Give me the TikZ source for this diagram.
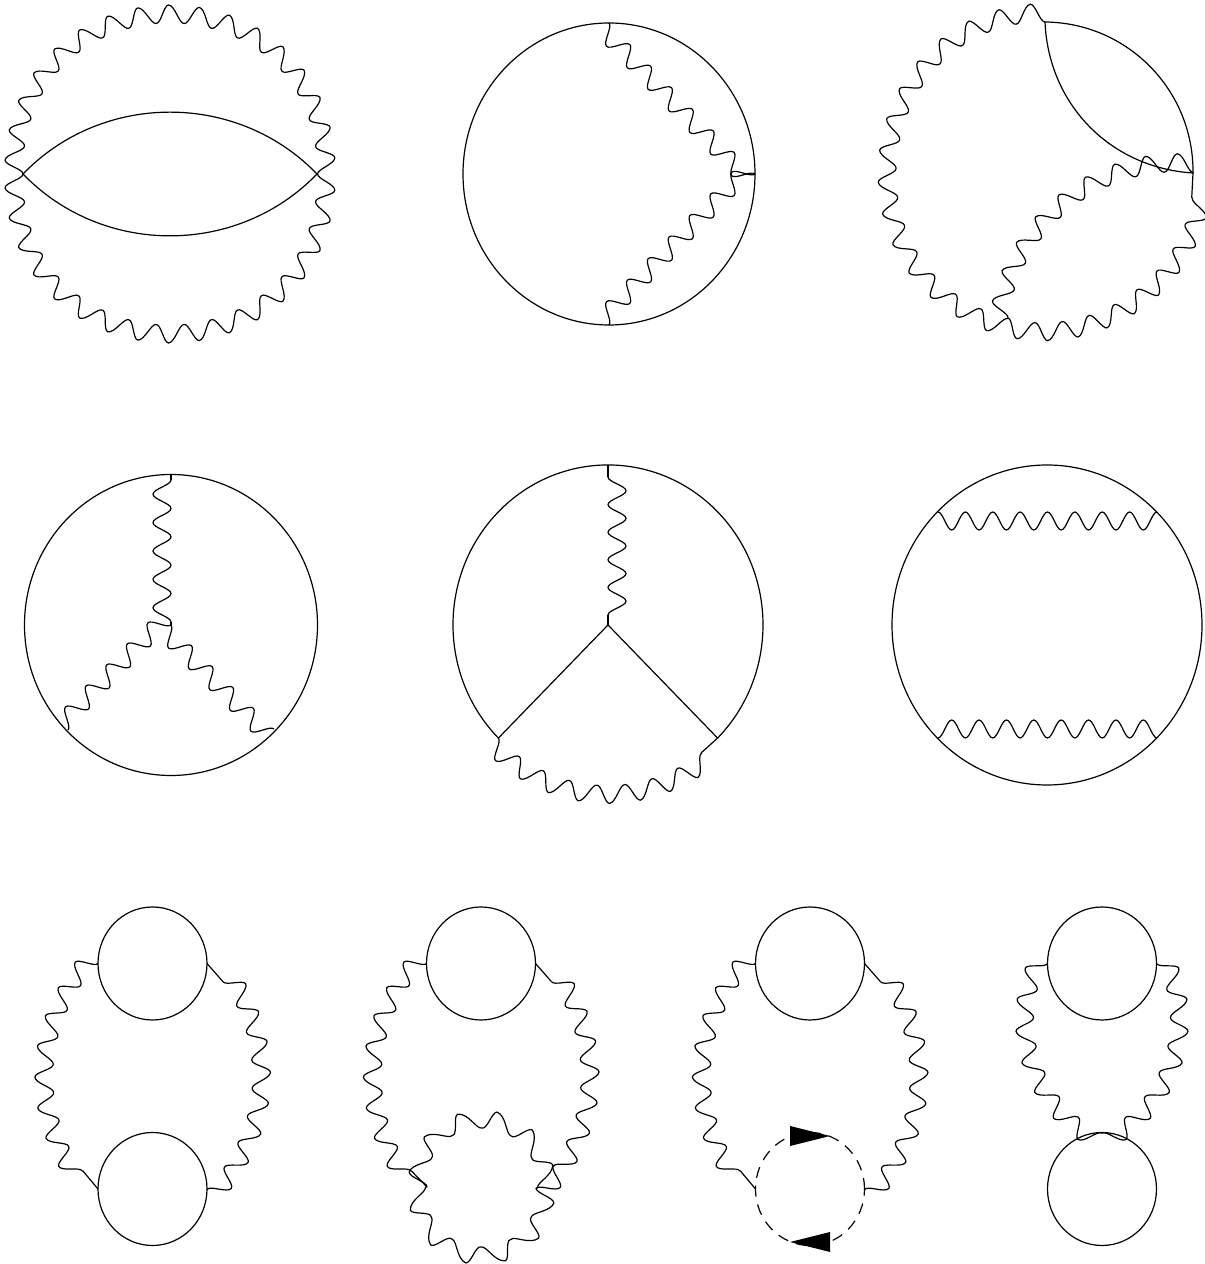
\documentclass[tikz,border=0pt]{standalone}
\usetikzlibrary{decorations, shapes.geometric}

\pgfdeclaredecoration{photon}{up}{
	\state{up}[switch if less than=0.25*\pgfdecoratedpathlength/\wavecount to final, width=0.5*\pgfdecoratedpathlength/\wavecount, next state=down]{
		\pgfmathsetlengthmacro\wavestep{\pgfdecoratedpathlength/\wavecount}
		\pgfpathcurveto{\pgfpoint{0.18*\wavestep}{0pt}}{\pgfpoint{0.32*\wavestep}{\pgfdecorationsegmentamplitude}}{\pgfpoint{0.5*\wavestep}{\pgfdecorationsegmentamplitude}}
	}
	\state{down}[switch if less than=0.25*\pgfdecoratedpathlength/\wavecount to final, width=0.5*\pgfdecoratedpathlength/\wavecount, next state=up]{
		\pgfmathsetlengthmacro\wavestep{\pgfdecoratedpathlength/\wavecount}
		\pgfpathcurveto{\pgfpoint{0.18*\wavestep}{\pgfdecorationsegmentamplitude}}{\pgfpoint{0.32*\wavestep}{0pt}}{\pgfpoint{0.5*\wavestep}{0pt}}
	}
	\state{final}{\pgfpathlineto{\pgfpointdecoratedpathlast}}
}

\tikzset{
	gluon/.style={decorate, decoration={photon, amplitude=18pt}, /utils/exec={\def\wavecount{#1}}},
	flipgluon/.style={gluon=#1, decoration={mirror}}
}

\begin{document}
\begin{tikzpicture}[x=1pt, y=1pt, line width=1.2pt, line join=round, every node/.style={ellipse, draw, inner sep=0pt, outer sep=0pt}]
	\useasboundingbox (0, 0) rectangle (1205, 1264);

	\coordinate (v1l) at (23, 1090);
	\coordinate (v1r) at (317, 1090);
	\draw (v1l) to[bend left=46] (v1r);
	\draw (v1l) to[bend right=46] (v1r);
	\draw[gluon=17] (v1l) to[bend left=90, looseness=1.75] (v1r);
	\draw[flipgluon=17] (v1l) to[bend right=90, looseness=1.75] (v1r);

	\node[minimum width=292pt, minimum height=302pt] (d2) at (609, 1090) {};
	\draw[flipgluon=7] (d2.north) -- (d2.east);
	\draw[gluon=7] (d2.south) -- (d2.east);

	\coordinate (d3t) at (1045, 1242);
	\coordinate (d3r) at (1193, 1091);
	\coordinate (d3j) at (1008, 946);
	\coordinate (d3e) at (1191.7, 1066);
	\draw (d3t) to[bend left=45] (d3r);
	\draw (d3t) to[bend right=42] (d3r);
	\draw[flipgluon=15] (d3t) to[bend right=82, looseness=1.5] (d3j);
	\draw[flipgluon=9] (d3j) to[bend right=47] (d3e);
	\draw (d3e) -- (d3r);
	\draw[gluon=9] (d3j) to[bend left=43] (d3r);

	\node[minimum width=293pt, minimum height=301pt] (d4) at (171, 639) {};
	\coordinate (v4c) at (171, 639);
	\coordinate (v4t) at (171, 784);
	\coordinate (v4b) at (171, 642);
	\coordinate (v4l) at (68, 534);
	\coordinate (v4r) at (274, 535);
	\draw (d4.north) -- (v4t);
	\draw (v4b) -- (v4c);
	\draw[gluon=5] (v4b) -- (v4t);
	\draw[gluon=5] (v4l) -- (v4c);
	\draw[flipgluon=5] (v4c) -- (v4r);

	\coordinate (v5c) at (608, 639);
	\coordinate (v5t) at (608, 799);
	\coordinate (v5u) at (608, 787);
	\coordinate (v5d) at (608, 649);
	\coordinate (v5a) at (717.6, 525.9);
	\coordinate (v5b) at (498.4, 525.9);
	\coordinate (v5e) at (701, 511);
	\draw (v5a) arc[start angle=-45, delta angle=270, x radius=155, y radius=160];
	\draw (v5c) -- (v5a);
	\draw (v5c) -- (v5b);
	\draw (v5t) -- (v5u);
	\draw (v5d) -- (v5c);
	\draw (v5e) -- (v5a);
	\draw[gluon=5] (v5u) -- (v5d);
	\draw[flipgluon=8] (v5b) to[bend right=41] (v5e);

	\node[minimum width=310pt, minimum height=320pt] (d6) at (1047, 639) {};
	\coordinate (v6a) at (938, 752);
	\coordinate (v6b) at (1157, 752);
	\coordinate (v6c) at (938, 526);
	\coordinate (v6d) at (1157, 526);
	\draw[flipgluon=8] (v6a) -- (v6b);
	\draw[gluon=8] (v6c) -- (v6d);

	\node[minimum width=109pt, minimum height=113pt] (d7a) at (152.5, 300.5) {};
	\node[minimum width=109pt, minimum height=113pt] (d7b) at (152.5, 75) {};
	\coordinate (v7a) at (82.7, 93.3);
	\coordinate (v7b) at (223, 282.3);
	\draw (v7a) -- (d7b.west);
	\draw (d7a.east) -- (v7b);
	\draw[flipgluon=8] (d7a.west) to[bend right=37] (v7a);
	\draw[gluon=8] (v7b) to[bend left=37] (d7b.east);

	\node[minimum width=109pt, minimum height=113pt] (d8) at (481, 300.5) {};
	\coordinate (v8a) at (427, 77);
	\coordinate (v8b) at (536, 76);
	\coordinate (v8c) at (411.2, 93.3);
	\coordinate (v8d) at (551.5, 282.3);
	\draw (v8c) -- (v8a);
	\draw (d8.east) -- (v8d);
	\draw[flipgluon=8] (d8.west) to[bend right=37] (v8c);
	\draw[gluon=8] (v8d) to[bend left=37] (v8b);
	\draw[gluon=6] (v8a) to[bend left=90, looseness=1.8] (v8b);
	\draw[gluon=6] (v8b) to[bend left=90, looseness=1.8] (v8a);

	\node[minimum width=109pt, minimum height=113pt] (d9a) at (810, 300.5) {};
	\node[minimum width=109pt, minimum height=113pt, dash pattern=on 11pt off 8pt] (d9b) at (810, 75) {};
	\coordinate (v9a) at (740.2, 93.3);
	\coordinate (v9b) at (880.5, 282.3);
	\draw (v9a) -- (d9b.west);
	\draw (d9a.east) -- (v9b);
	\draw[flipgluon=8] (d9a.west) to[bend right=37] (v9a);
	\draw[gluon=8] (v9b) to[bend left=37] (d9b.east);
	\fill (790, 138) -- (790, 118) -- (830, 128) -- cycle;
	\fill (830, 32) -- (830, 12) -- (790, 22) -- cycle;

	\node[minimum width=109pt, minimum height=113pt] (d10a) at (1102, 300.5) {};
	\node[minimum width=109pt, minimum height=113pt] (d10b) at (1102, 75) {};
	\draw[flipgluon=7] (d10a.west) to[bend right=44] (d10b.north);
	\draw[gluon=7] (d10a.east) to[bend left=44] (d10b.north);
\end{tikzpicture}
\end{document}
